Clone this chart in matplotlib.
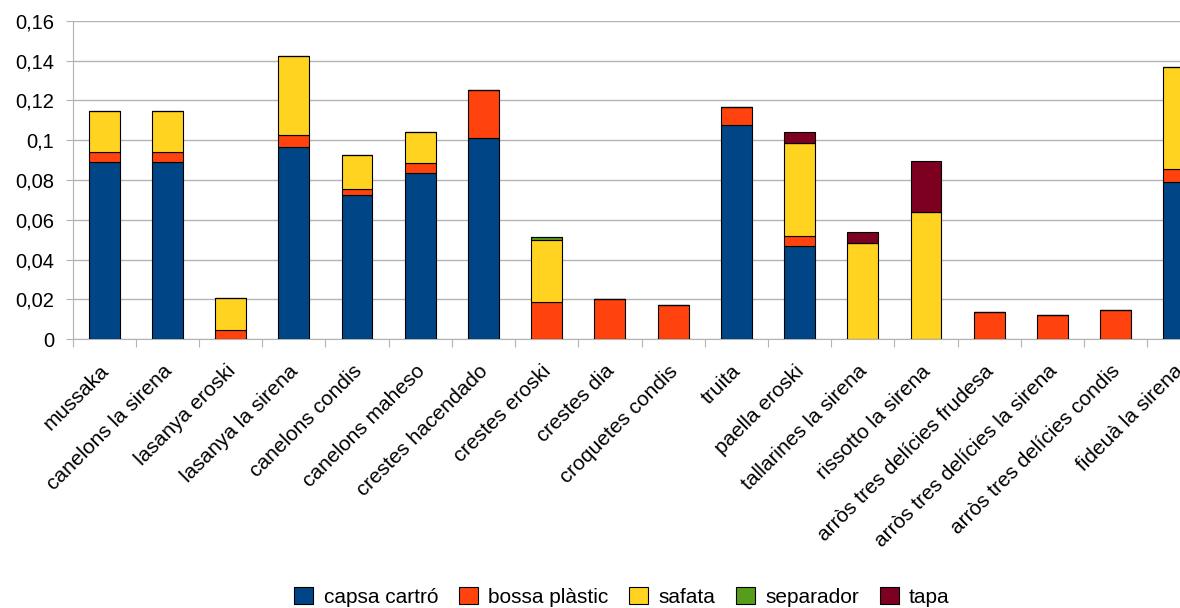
import numpy as np
import matplotlib.pyplot as plt
from matplotlib.ticker import FuncFormatter

plt.rcParams['font.family'] = ['Liberation Sans', 'DejaVu Sans']

categories = ['mussaka', 'canelons la sirena', 'lasanya eroski', 'lasanya la sirena',
              'canelons condis', 'canelons maheso', 'crestes hacendado', 'crestes eroski',
              'crestes dia', 'croquetes condis', 'truita', 'paella eroski',
              'tallarines la sirena', 'rissotto la sirena', 'arròs tres delícies frudesa',
              'arròs tres delícies la sirena', 'arròs tres delícies condis', 'fideuà la sirena']

capsa_cartro = [0.089, 0.089, 0, 0.0964, 0.0723, 0.0835, 0.101, 0, 0, 0, 0.1076, 0.0469,
                0, 0, 0, 0, 0, 0.0792]
bossa_plastic = [0.005, 0.005, 0.0047, 0.0064, 0.0033, 0.0052, 0.024, 0.0189, 0.0204, 0.0171,
                 0.0089, 0.0051, 0, 0, 0.0139, 0.0124, 0.0146, 0.0063]
safata = [0.0205, 0.0205, 0.0159, 0.0395, 0.017, 0.0153, 0, 0.031, 0, 0, 0, 0.0467,
          0.0485, 0.0638, 0, 0, 0, 0.0514]
separador = [0, 0, 0, 0, 0, 0, 0, 0.0016, 0, 0, 0, 0, 0, 0, 0, 0, 0, 0]
tapa = [0, 0, 0, 0, 0, 0, 0, 0, 0, 0, 0, 0.0053, 0.0052, 0.0259, 0, 0, 0, 0]

series = [('capsa cartró', capsa_cartro, '#004586'),
          ('bossa plàstic', bossa_plastic, '#ff420e'),
          ('safata', safata, '#ffd320'),
          ('separador', separador, '#579d1c'),
          ('tapa', tapa, '#7e0021')]

fig = plt.figure(figsize=(11.8, 6.08), dpi=100)
ax = fig.add_axes([72.5 / 1180, (608 - 339.3) / 608, 1138 / 1180, 318.6 / 608])

x = np.arange(len(categories))
bottom = np.zeros(len(categories))
for name, vals, col in series:
    vals = np.array(vals)
    ax.bar(x, vals, 0.49, bottom=bottom, color=col, edgecolor='black', linewidth=0.8,
           label=name, zorder=3)
    bottom += vals

ax.set_xlim(-0.5, len(categories) - 0.5)
ax.set_ylim(0, 0.16)
ax.set_yticks(np.arange(0, 0.161, 0.02))
ax.yaxis.set_major_formatter(FuncFormatter(lambda v, p: ('%g' % round(v, 2)).replace('.', ',')))
ax.grid(axis='y', color='#b3b3b3', linewidth=1, zorder=0)

# ticks between categories, labels at the bar centres
ax.set_xticks(x - 0.5, minor=False)
ax.set_xticklabels([])
ax.set_xticks(x - 0.08, minor=True)
ax.set_xticklabels(categories, minor=True, rotation=45, ha='right', rotation_mode='anchor',
                   fontsize=15)
ax.tick_params(axis='x', which='major', length=6, color='#b3b3b3')
ax.tick_params(axis='x', which='minor', length=0, pad=16)
ax.tick_params(axis='y', length=5, color='#b3b3b3', labelsize=14.5, pad=8)

for s in ['top', 'right']:
    ax.spines[s].set_visible(False)
for s in ['left', 'bottom']:
    ax.spines[s].set_color('#b3b3b3')

handles, labels = ax.get_legend_handles_labels()
fig.legend(handles, labels, loc='center', bbox_to_anchor=(622 / 1180, 1 - 597 / 608), ncol=5,
           frameon=False, fontsize=15, handlelength=0.9, handleheight=0.9, handletextpad=0.5,
           columnspacing=1.0)

fig.savefig('out.png', dpi=100)
